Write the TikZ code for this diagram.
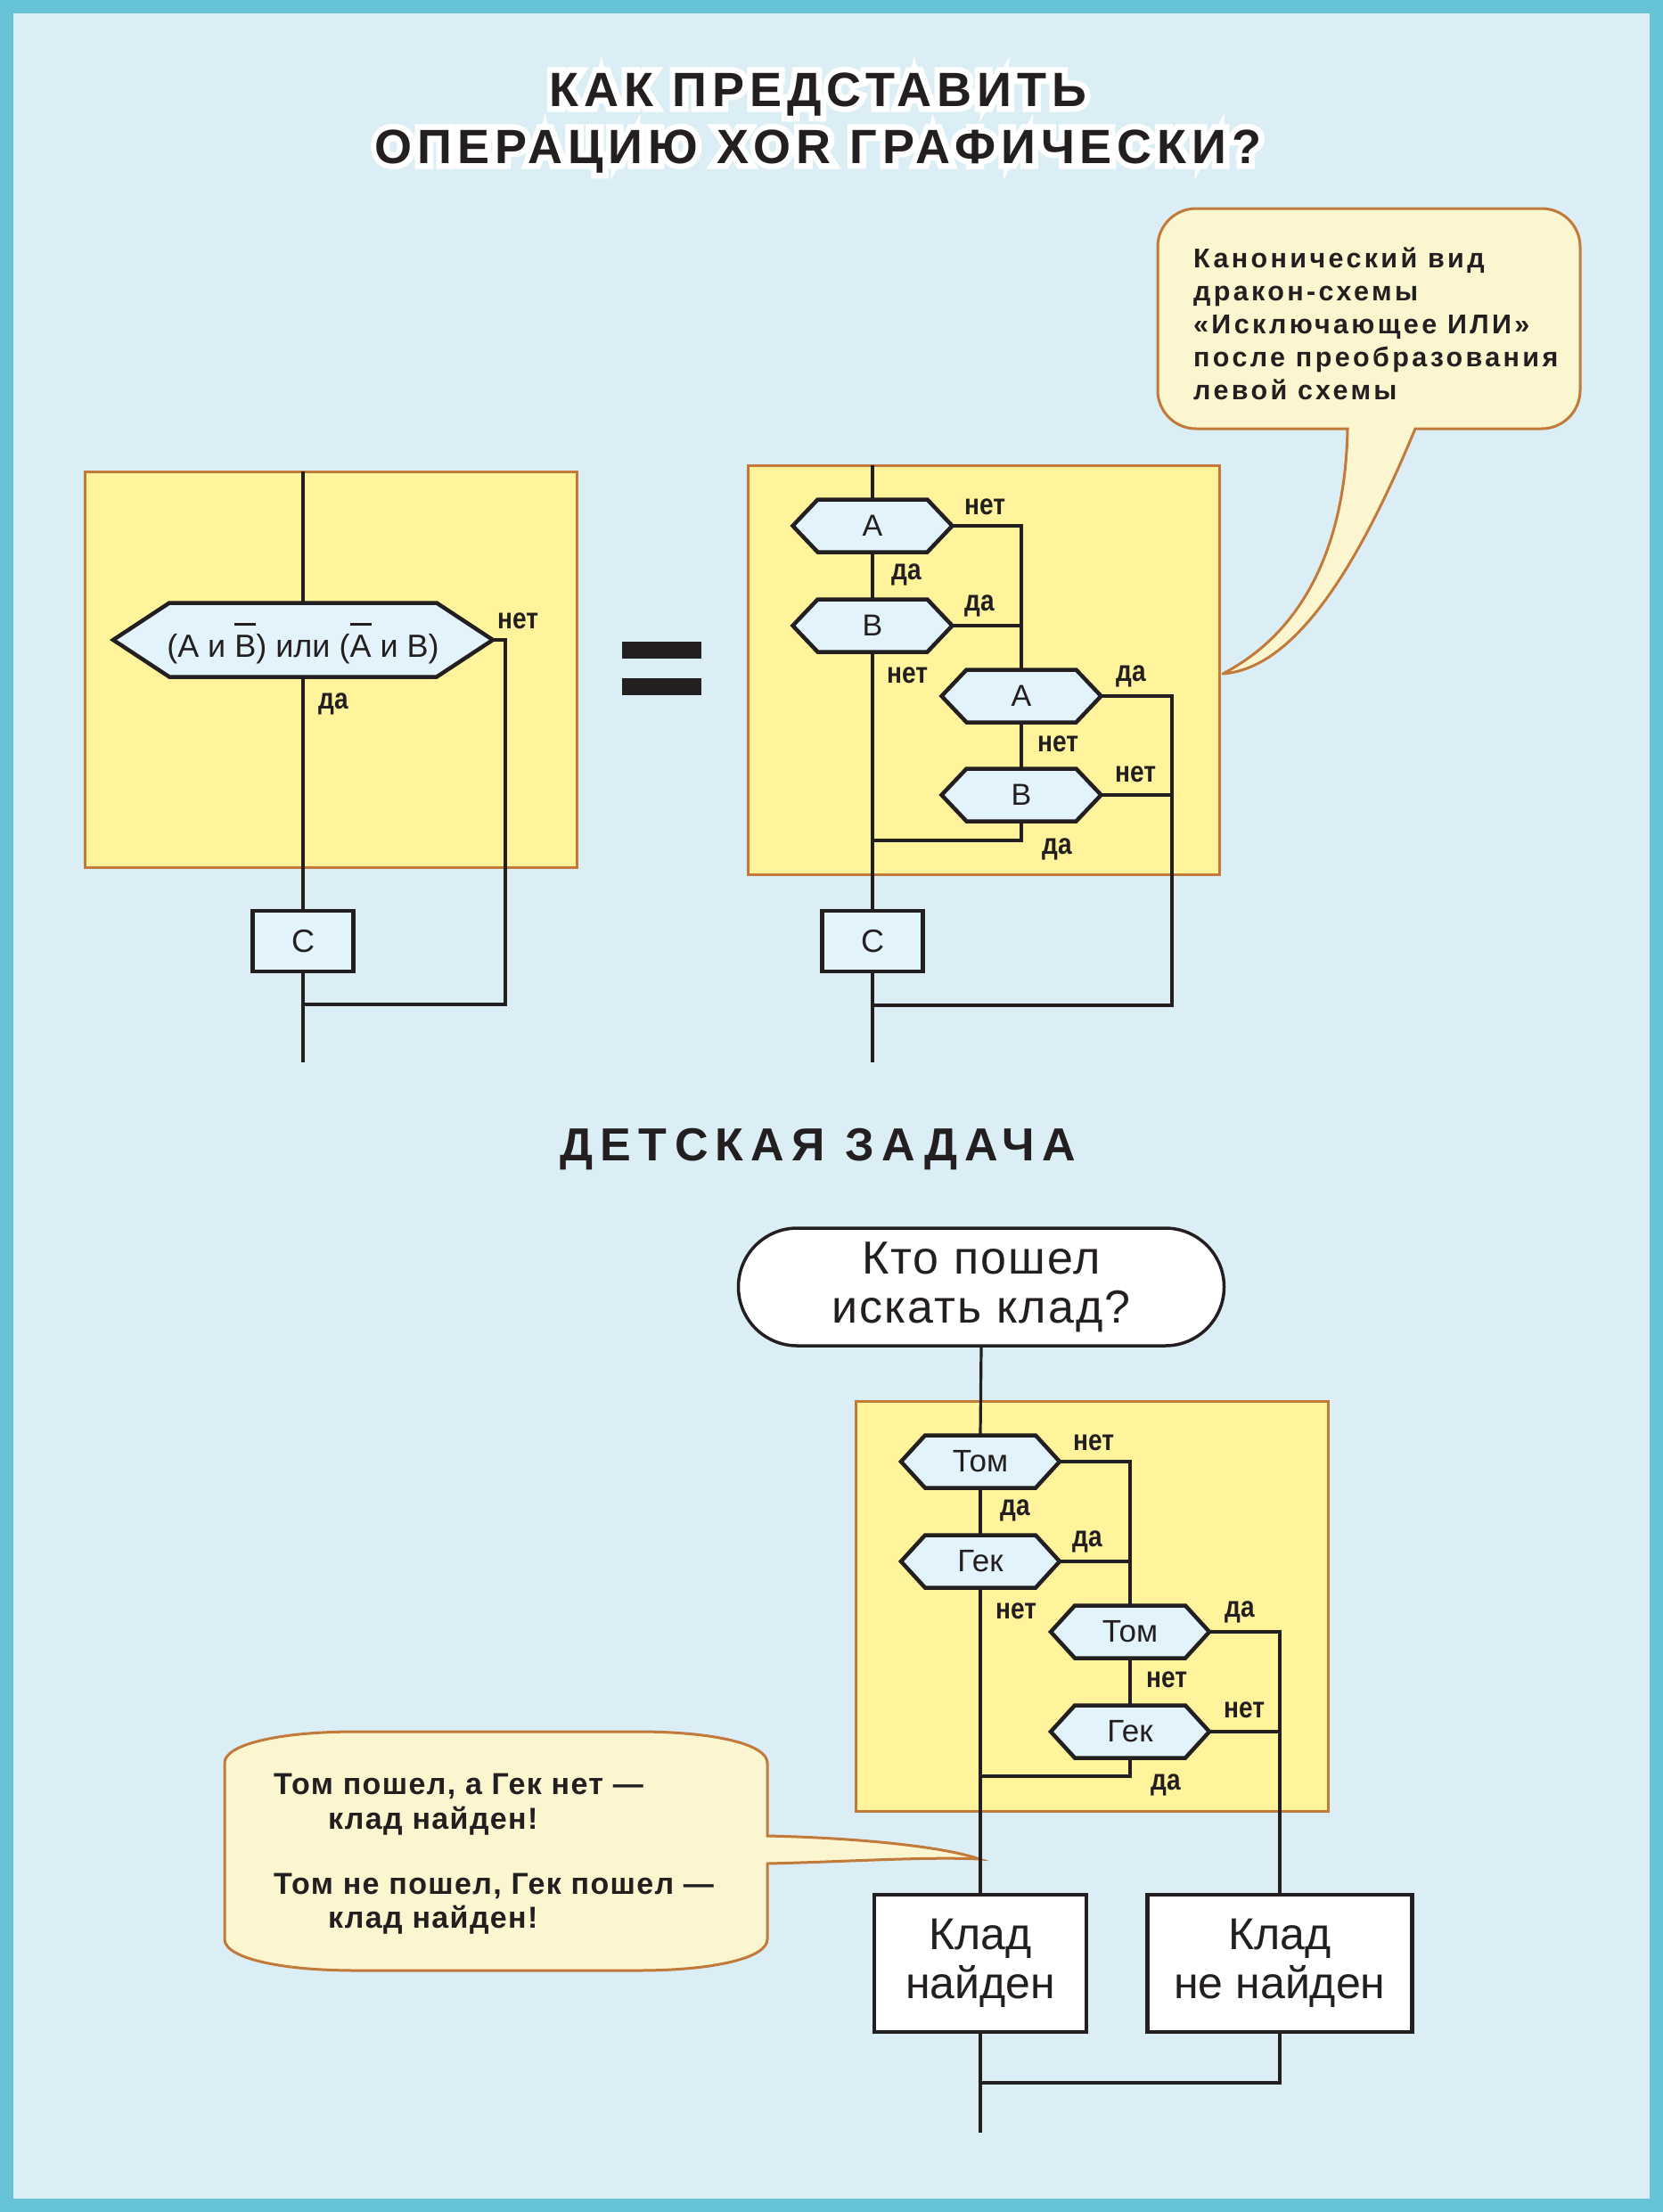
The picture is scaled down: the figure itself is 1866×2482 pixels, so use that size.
\documentclass[tikz,border=0pt]{standalone}
\usepackage{fontspec}
\setmainfont{Liberation Sans}
\newfontfamily\titlefont{Liberation Sans}[LetterSpace=11]
\newfontfamily\halofont{Liberation Sans}[LetterSpace=11, FakeBold=24]
\newfontfamily\headfont{Liberation Sans}[LetterSpace=16]
\newfontfamily\notefont{Liberation Sans}[LetterSpace=11]
\newfontfamily\cnotefont{Liberation Sans}[LetterSpace=4]
\newfontfamily\lblfamily{Liberation Sans}[FakeStretch=0.85]
\newfontfamily\termfamily{Liberation Sans}[LetterSpace=4]
\usetikzlibrary{calc}
\definecolor{frame}{HTML}{66C4D6}
\definecolor{pagebg}{HTML}{DBEEF5}
\definecolor{ybg}{HTML}{FFF49C}
\definecolor{oline}{HTML}{C27A3A}
\definecolor{hexfill}{HTML}{E2F3FB}
\definecolor{cfill}{HTML}{FCF6D0}
\definecolor{ink}{HTML}{231F20}
\pgfdeclarelayer{back}\pgfdeclarelayer{mid}
\pgfsetlayers{back,mid,main}
\newcommand\ovl[1]{\vbox{\hrule height 3pt\kern 11pt\hbox{#1}}}
\newcommand\hexshape[2]{\begin{pgfonlayer}{mid}\draw[hexline] (#1.west) -- ([xshift=#2]#1.north west) -- ([xshift=-#2]#1.north east) -- (#1.east) -- ([xshift=-#2]#1.south east) -- ([xshift=#2]#1.south west) -- cycle;\end{pgfonlayer}}
\begin{document}
\begin{tikzpicture}[x=1pt,y=-1pt,
  conn/.style={draw=ink, line width=3.2, line join=miter},
  hexline/.style={draw=ink, fill=hexfill, line width=4.5, line join=miter},
  hexnode/.style={inner sep=0, outer sep=0, text=ink},
  rhex/.style={hexnode, minimum width=179, minimum height=59, font=\fontsize{34}{40}\selectfont},
  bhex/.style={hexnode, minimum width=178, minimum height=59, font=\fontsize{35}{40}\selectfont},
  flowbox/.style={draw=ink, line width=4.5, fill=hexfill, inner sep=0, text=ink, font=\fontsize{36}{40}\selectfont},
  cladbox/.style={draw=ink, line width=4.5, fill=white, inner sep=0, text=ink, align=center, minimum height=154, font=\fontsize{50}{55}\selectfont},
  lbl/.style={anchor=base west, inner sep=0, text=ink, font=\lblfamily\bfseries\fontsize{33}{40}\selectfont},
  ybox/.style={fill=ybg, draw=oline, line width=3},
  bubble/.style={fill=cfill, draw=oline, line width=3},
  note/.style={anchor=base west, inner sep=0, text=ink, font=\notefont\bfseries\fontsize{30.5}{37}\selectfont},
  cnote/.style={anchor=base west, inner sep=0, text=ink, font=\cnotefont\bfseries\fontsize{34}{38}\selectfont},
  halonode/.style={anchor=base, inner sep=0, text=white, font=\halofont\bfseries\fontsize{54}{60}\selectfont},
  titlenode/.style={anchor=base, inner sep=0, text=ink, font=\titlefont\bfseries\fontsize{54}{60}\selectfont}]
\useasboundingbox (0,0) rectangle (1866,2482);
\begin{pgfonlayer}{back}
\fill[frame] (0,0) rectangle (1866,2482);
\fill[pagebg] (15,15) rectangle (1851,2467);
\draw[ybox] (95,529) rectangle (647,973);
\draw[ybox] (839,522) rectangle (1368,981);
\draw[ybox] (960,1572) rectangle (1490,2032);
% top bubble
\draw[bubble, rounded corners=43] (1299,234) rectangle (1773,481);
\fill[cfill] (1513.5,470) -- (1513.5,481) .. controls (1511,600) and (1470,705) .. (1372,756) .. controls (1452,750) and (1522,640) .. (1586.5,481) -- (1586.5,470) -- cycle;
\draw[oline, line width=3, line join=round] (1512,481) .. controls (1510,600) and (1470,705) .. (1372,756) .. controls (1452,750) and (1522,640) .. (1588,481);
% bottom bubble
\draw[bubble] (252,1978) .. controls (252,1958) and (310,1943) .. (400,1943) -- (715,1943) .. controls (805,1943) and (861,1958) .. (861,1978) -- (861,2060) .. controls (960,2062) and (1060,2072) .. (1099,2086) .. controls (1040,2083) and (950,2089) .. (861,2091) -- (861,2176) .. controls (861,2196) and (805,2211) .. (715,2211) -- (400,2211) .. controls (310,2211) and (252,2196) .. (252,2176) -- cycle;
\end{pgfonlayer}
% titles
\node[halonode] (t1h) at (918,119) {КАК ПРЕДСТАВИТЬ};
\node[halonode] (t2h) at (918,183) {ОПЕРАЦИЮ XOR ГРАФИЧЕСКИ?};
\node[titlenode] (t1) at (918,119) {КАК ПРЕДСТАВИТЬ};
\node[titlenode] (t2) at (918,183) {ОПЕРАЦИЮ XOR ГРАФИЧЕСКИ?};
\node[anchor=base, inner sep=0, text=ink, font=\headfont\bfseries\fontsize{52}{60}\selectfont] (h2) at (918,1302) {ДЕТСКАЯ ЗАДАЧА};
% top note
\node[note] (n1) at (1339,300) {Канонический вид};
\node[note] (n2) at (1339,337) {дракон-схемы};
\node[note] (n3) at (1339,374) {«Исключающее ИЛИ»};
\node[note] (n4) at (1339,411) {после преобразования};
\node[note] (n5) at (1339,448) {левой схемы};
% equals
\fill[ink] (698,720) rectangle (787,739);
\fill[ink] (698,761) rectangle (787,780);
% left diagram
\coordinate (l0) at (340,529);
\node[hexnode, minimum width=426, minimum height=83, text depth=0, font=\fontsize{36}{40}\selectfont] (lh) at (340,718) {(A и \ovl{B}) или (\ovl{A} и B)};
\hexshape{lh}{63}
\node[lbl] (lnet) at (558,705) {нет};
\node[lbl] (lda) at (357,795) {да};
\node[flowbox, minimum width=113, minimum height=68] (lc) at (340,1056) {C};
\coordinate (lm) at (340,1127);
\coordinate (lr) at (567,1127);
\coordinate (le) at (340,1192);
\draw[conn] (l0) -- (lh.north);
\draw[conn] (lh.south) -- (lc.north);
\draw[conn] (lc.south) -- (le);
\draw[conn] (lh.east) -| (lr) -- (lm);
% right diagram
\coordinate (r0) at (979,522);
\node[rhex] (ra1) at (979,590) {A};
\hexshape{ra1}{28}
\node[rhex] (rb1) at (979,702) {B};
\hexshape{rb1}{28}
\node[rhex] (ra2) at (1146,781) {A};
\hexshape{ra2}{28}
\node[rhex] (rb2) at (1146,892) {B};
\hexshape{rb2}{28}
\node[flowbox, minimum width=113, minimum height=68] (rc) at (979,1056) {C};
\coordinate (rj) at (979,943);
\coordinate (rm) at (979,1128);
\coordinate (rf) at (1315,1128);
\coordinate (re) at (979,1192);
\draw[conn] (r0) -- (ra1.north);
\draw[conn] (ra1.south) -- (rb1.north);
\draw[conn] (rb1.south) -- (rc.north);
\draw[conn] (rc.south) -- (re);
\draw[conn] (ra1.east) -| (ra2.north);
\draw[conn] (rb1.east) -- (rb1.east -| ra2.north);
\draw[conn] (ra2.south) -- (rb2.north);
\draw[conn] (ra2.east) -| (rf) -- (rm);
\draw[conn] (rb2.east) -- (rb2.east -| rf);
\draw[conn] (rb2.south) |- (rj);
\node[lbl] (rl1) at (1082,577) {нет};
\node[lbl] (rl2) at (1000,650) {да};
\node[lbl] (rl3) at (1082,685) {да};
\node[lbl] (rl4) at (995,766) {нет};
\node[lbl] (rl5) at (1252,764) {да};
\node[lbl] (rl6) at (1164,843) {нет};
\node[lbl] (rl7) at (1251,877) {нет};
\node[lbl] (rl8) at (1169,958) {да};
% bottom diagram
\node[draw=ink, line width=3.5, fill=white, rounded corners=66, minimum width=545, minimum height=132, inner sep=0, align=center, text=ink, font=\termfamily\fontsize{52}{55}\selectfont] (bt) at (1101,1444) {Кто пошел\\искать клад?};
\node[bhex] (bt1) at (1100,1640) {Том};
\hexshape{bt1}{27}
\node[bhex] (bg1) at (1100,1752) {Гек};
\hexshape{bg1}{27}
\node[bhex] (bt2) at (1268,1831) {Том};
\hexshape{bt2}{27}
\node[bhex] (bg2) at (1268,1943) {Гек};
\hexshape{bg2}{27}
\node[cladbox, minimum width=238] (bk1) at (1100,2203) {Клад\\найден};
\node[cladbox, minimum width=297] (bk2) at (1436,2203) {Клад\\не найден};
\coordinate (bj) at (1100,1993);
\coordinate (bm) at (1100,2337);
\coordinate (be) at (1100,2393);
\draw[conn] (bt.south) -- (bt1.north);
\draw[conn] (bt1.south) -- (bg1.north);
\draw[conn] (bg1.south) -- (bk1.north);
\draw[conn] (bk1.south) -- (be);
\draw[conn] (bt1.east) -| (bt2.north);
\draw[conn] (bg1.east) -- (bg1.east -| bt2.north);
\draw[conn] (bt2.south) -- (bg2.north);
\draw[conn] (bt2.east) -| (bk2.north);
\draw[conn] (bg2.east) -- (bg2.east -| bk2.north);
\draw[conn] (bg2.south) |- (bj);
\draw[conn] (bk2.south) |- (bm);
\node[lbl] (bl1) at (1204,1627) {нет};
\node[lbl] (bl2) at (1122,1700) {да};
\node[lbl] (bl3) at (1203,1735) {да};
\node[lbl] (bl4) at (1117,1816) {нет};
\node[lbl] (bl5) at (1374,1814) {да};
\node[lbl] (bl6) at (1286,1893) {нет};
\node[lbl] (bl7) at (1373,1927) {нет};
\node[lbl] (bl8) at (1291,2008) {да};
% bottom note
\node[cnote] (c1) at (307,2013) {Том пошел, а Гек нет —};
\node[cnote] (c2) at (368,2052) {клад найден!};
\node[cnote] (c3) at (307,2125) {Том не пошел, Гек пошел —};
\node[cnote] (c4) at (368,2163) {клад найден!};
\end{tikzpicture}
\end{document}
